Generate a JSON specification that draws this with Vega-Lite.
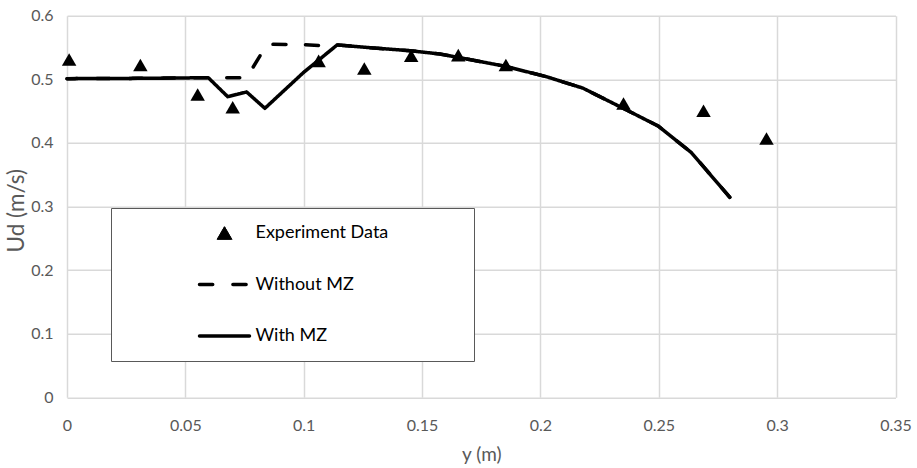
{
  "$schema": "https://vega.github.io/schema/vega-lite/v6.json",
  "width": 828.5,
  "height": 381.6,
  "autosize": {"type": "none"},
  "padding": {"left": 67, "top": 15.7, "right": 21.5, "bottom": 70.7},
  "background": "white",
  "config": {
    "view": {"stroke": null},
    "font": "Lato",
    "axis": {
      "gridColor": "#d9d9d9",
      "gridWidth": 1.5,
      "domain": false,
      "ticks": false,
      "labelFlush": false,
      "labelFont": "Lato",
      "labelFontSize": 16,
      "labelColor": "#595959",
      "titleFont": "Lato",
      "titleFontSize": 19,
      "titleFontWeight": "normal",
      "titleColor": "#595959"
    }
  },
  "datasets": {
    "model": [
      {"y": 0, "Ud": 0.501, "series": "Without MZ"},
      {"y": 0.03, "Ud": 0.5015, "series": "Without MZ"},
      {"y": 0.0597, "Ud": 0.5025, "series": "Without MZ"},
      {"y": 0.0679, "Ud": 0.5025, "series": "Without MZ"},
      {"y": 0.0759, "Ud": 0.5025, "series": "Without MZ"},
      {"y": 0.0845, "Ud": 0.555, "series": "Without MZ"},
      {"y": 0.1, "Ud": 0.5545, "series": "Without MZ"},
      {"y": 0.1075, "Ud": 0.553, "series": "Without MZ"},
      {"y": 0.1141, "Ud": 0.554, "series": "Without MZ"},
      {"y": 0.128, "Ud": 0.5497, "series": "Without MZ"},
      {"y": 0.1448, "Ud": 0.545, "series": "Without MZ"},
      {"y": 0.1575, "Ud": 0.5398, "series": "Without MZ"},
      {"y": 0.1716, "Ud": 0.53, "series": "Without MZ"},
      {"y": 0.1857, "Ud": 0.52, "series": "Without MZ"},
      {"y": 0.2026, "Ud": 0.504, "series": "Without MZ"},
      {"y": 0.218, "Ud": 0.486, "series": "Without MZ"},
      {"y": 0.2364, "Ud": 0.4517, "series": "Without MZ"},
      {"y": 0.2497, "Ud": 0.4266, "series": "Without MZ"},
      {"y": 0.2638, "Ud": 0.3846, "series": "Without MZ"},
      {"y": 0.28, "Ud": 0.3145, "series": "Without MZ"},
      {"y": 0, "Ud": 0.501, "series": "With MZ"},
      {"y": 0.03, "Ud": 0.5015, "series": "With MZ"},
      {"y": 0.0597, "Ud": 0.5025, "series": "With MZ"},
      {"y": 0.0679, "Ud": 0.4727, "series": "With MZ"},
      {"y": 0.0759, "Ud": 0.48, "series": "With MZ"},
      {"y": 0.0836, "Ud": 0.4544, "series": "With MZ"},
      {"y": 0.1, "Ud": 0.511, "series": "With MZ"},
      {"y": 0.1141, "Ud": 0.554, "series": "With MZ"},
      {"y": 0.128, "Ud": 0.5497, "series": "With MZ"},
      {"y": 0.1448, "Ud": 0.545, "series": "With MZ"},
      {"y": 0.1575, "Ud": 0.5398, "series": "With MZ"},
      {"y": 0.1716, "Ud": 0.53, "series": "With MZ"},
      {"y": 0.1857, "Ud": 0.52, "series": "With MZ"},
      {"y": 0.2026, "Ud": 0.504, "series": "With MZ"},
      {"y": 0.218, "Ud": 0.486, "series": "With MZ"},
      {"y": 0.2364, "Ud": 0.4517, "series": "With MZ"},
      {"y": 0.2497, "Ud": 0.4266, "series": "With MZ"},
      {"y": 0.2638, "Ud": 0.3846, "series": "With MZ"},
      {"y": 0.28, "Ud": 0.3145, "series": "With MZ"}
    ],
    "exp": [
      {"y": 0.0009, "Ud": 0.531, "series": "Experiment Data"},
      {"y": 0.031, "Ud": 0.5225, "series": "Experiment Data"},
      {"y": 0.0552, "Ud": 0.476, "series": "Experiment Data"},
      {"y": 0.07, "Ud": 0.456, "series": "Experiment Data"},
      {"y": 0.1063, "Ud": 0.529, "series": "Experiment Data"},
      {"y": 0.1256, "Ud": 0.517, "series": "Experiment Data"},
      {"y": 0.1454, "Ud": 0.537, "series": "Experiment Data"},
      {"y": 0.1653, "Ud": 0.538, "series": "Experiment Data"},
      {"y": 0.1854, "Ud": 0.5225, "series": "Experiment Data"},
      {"y": 0.2351, "Ud": 0.462, "series": "Experiment Data"},
      {"y": 0.2689, "Ud": 0.4507, "series": "Experiment Data"},
      {"y": 0.2955, "Ud": 0.407, "series": "Experiment Data"}
    ]
  },
  "encoding": {
    "x": {
      "field": "y",
      "type": "quantitative",
      "title": "y (m)",
      "scale": {"domain": [0, 0.35], "nice": false, "zero": false},
      "axis": {
        "values": [0, 0.05, 0.1, 0.15, 0.2, 0.25, 0.3, 0.35],
        "format": "~g",
        "labelPadding": 20,
        "titlePadding": 12
      }
    },
    "y": {
      "field": "Ud",
      "type": "quantitative",
      "title": "Ud (m/s)",
      "scale": {"domain": [0, 0.6], "nice": false},
      "axis": {
        "values": [0, 0.1, 0.2, 0.3, 0.4, 0.5, 0.6],
        "format": "~g",
        "labelPadding": 14,
        "titlePadding": 2,
        "titleFontSize": 22.5,
        "titleY": 194.5
      }
    },
    "color": {
      "field": "series",
      "type": "nominal",
      "scale": {
        "domain": ["Experiment Data", "Without MZ", "With MZ"],
        "range": ["black", "black", "black"]
      },
      "legend": {
        "title": " ",
        "titleOrient": "right",
        "titlePadding": 70,
        "titleFontSize": 16,
        "orient": "none",
        "legendX": 44,
        "legendY": 192.3,
        "padding": 16,
        "strokeColor": "#595959",
        "fillColor": "white",
        "symbolSize": 2500,
        "symbolOffset": 88.5,
        "labelOffset": 22,
        "rowPadding": 33.5,
        "labelFont": "Lato",
        "labelFontSize": 18,
        "labelColor": "black",
        "encode": {
          "symbols": {
            "update": {
              "shape": {"signal": "datum.value === 'Experiment Data' ? 'triangle-up' : 'stroke'"},
              "size": {"signal": "datum.value === 'Experiment Data' ? 210 : 2500"},
              "strokeDash": {"signal": "datum.value === 'Without MZ' ? [13.2, 20.2] : [1, 0]"},
              "strokeWidth": {"signal": "datum.value === 'Experiment Data' ? 1 : 3.5"},
              "strokeCap": {"value": "round"},
              "fill": {"value": "black"},
              "stroke": {"value": "black"},
              "opacity": {"value": 1}
            }
          }
        }
      }
    }
  },
  "layer": [
    {
      "data": {"name": "model"},
      "mark": {"type": "line", "strokeWidth": 3.5, "strokeCap": "round", "strokeJoin": "round", "strokeDashOffset": 2.75},
      "encoding": {
        "strokeDash": {
          "field": "series",
          "type": "nominal",
          "scale": {"domain": ["Without MZ", "With MZ"], "range": [[13, 19.5], [1, 0]]},
          "legend": null
        }
      }
    },
    {
      "data": {"name": "exp"},
      "mark": {"type": "point", "shape": "triangle-up", "filled": true, "size": 210, "strokeWidth": 1, "opacity": 1}
    }
  ]
}
